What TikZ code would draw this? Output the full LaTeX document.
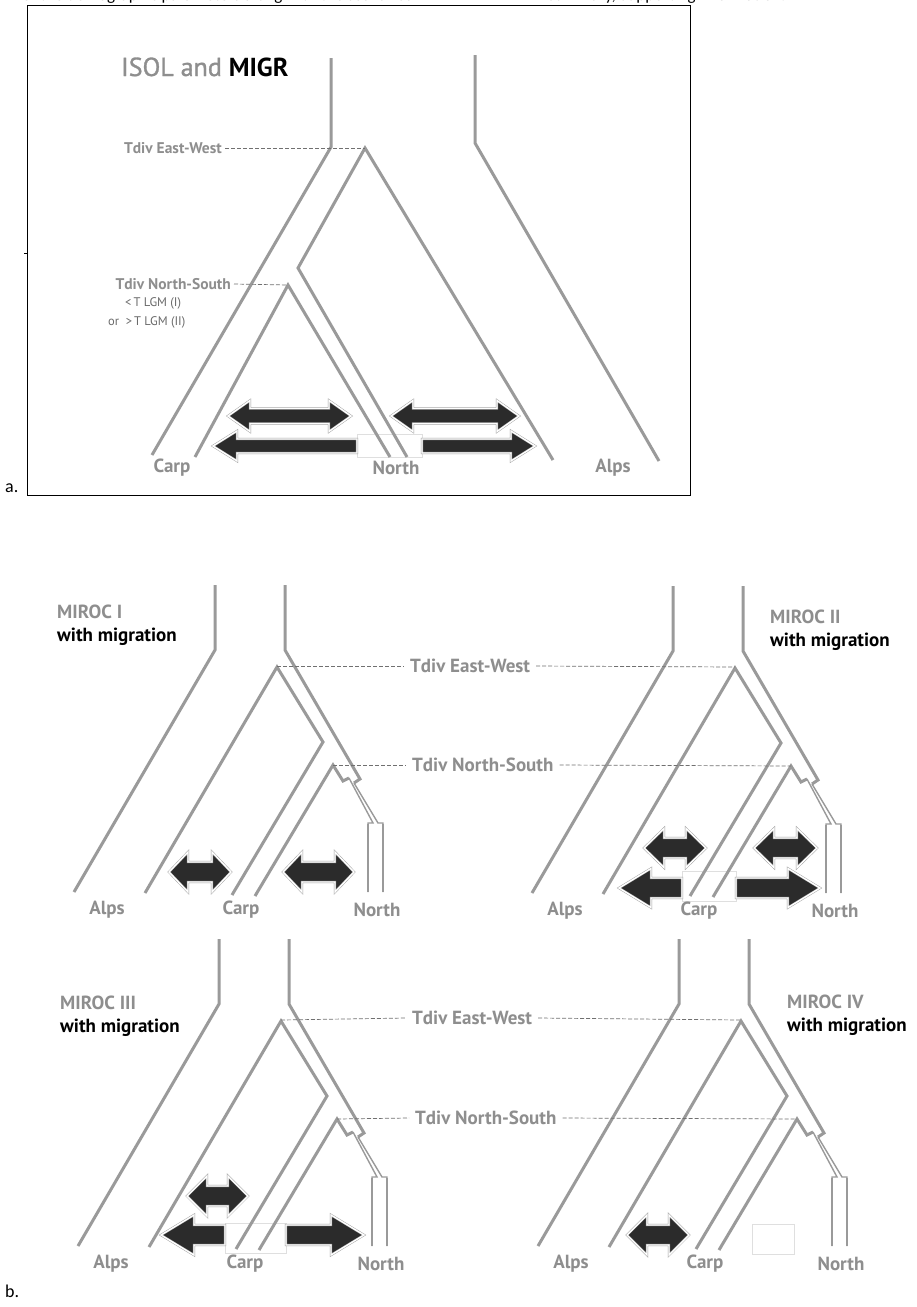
\documentclass[tikz,border=0pt]{standalone}
\usepackage{fontspec}
\setmainfont{PT Sans}
\newfontfamily\capfont{Carlito}
\newfontfamily\mediumfont[FakeBold=1.2]{PT Sans}
\definecolor{linegray}{HTML}{9A9A9A}
\definecolor{textgray}{HTML}{8E8E8E}
\definecolor{notegray}{HTML}{6A6A6A}
\definecolor{arrowdark}{HTML}{2B2B2B}
\definecolor{dashgray}{HTML}{707070}

\tikzset{
  branch/.style={draw=linegray, line width=3pt, line join=miter, line cap=butt},
  thinbranch/.style={draw=linegray, line width=1.4pt, line join=miter},
  guide/.style={draw=dashgray, line width=0.7pt, dash pattern=on 4pt off 2pt},
  migr/.style={fill=arrowdark, draw=gray!75, double=white, double distance=1.4pt,
    line width=0.45pt, line join=miter},
  gapbox/.style={fill=white, draw=gray!25, line width=0.6pt},
  poplabel/.style={text=textgray, font=\bfseries\fontsize{19}{21}\selectfont, inner sep=0pt},
  tdivA/.style={text=textgray, font=\bfseries\fontsize{15.5}{17}\selectfont, inner sep=0pt},
  tdivB/.style={text=textgray, font=\bfseries\fontsize{19}{21}\selectfont, inner sep=0pt},
  notelabel/.style={text=notegray, font=\fontsize{12.5}{14}\selectfont, inner sep=0pt},
  modelname/.style={text=textgray, font=\bfseries\fontsize{19}{21}\selectfont, inner sep=0pt},
  withmig/.style={text=black, font=\bfseries\fontsize{19}{21}\selectfont, inner sep=0pt},
  panelletter/.style={text=black, font=\capfont\fontsize{18}{20}\selectfont, inner sep=0pt},
  captext/.style={text=black, font=\capfont\fontsize{17}{19}\selectfont, anchor=base west, inner sep=0pt},
}

% double-headed migration arrow: left tip, right tip, y, half head, half shaft, head length
\newcommand{\migdouble}[6]{%
  \path[migr] (#1,#3) -- ({#1+#6},{#3-#4}) -- ({#1+#6},{#3-#5}) -- ({#2-#6},{#3-#5})
    -- ({#2-#6},{#3-#4}) -- (#2,#3) -- ({#2-#6},{#3+#4}) -- ({#2-#6},{#3+#5})
    -- ({#1+#6},{#3+#5}) -- ({#1+#6},{#3+#4}) -- cycle;}
% arrow pointing left: tip, flat end, y, half head, half shaft, head length
\newcommand{\migleft}[6]{%
  \path[migr] (#1,#3) -- ({#1+#6},{#3-#4}) -- ({#1+#6},{#3-#5}) -- (#2,{#3-#5})
    -- (#2,{#3+#5}) -- ({#1+#6},{#3+#5}) -- ({#1+#6},{#3+#4}) -- cycle;}
% arrow pointing right: flat end, tip, y, half head, half shaft, head length
\newcommand{\migright}[6]{%
  \path[migr] (#2,#3) -- ({#2-#6},{#3-#4}) -- ({#2-#6},{#3-#5}) -- (#1,{#3-#5})
    -- (#1,{#3+#5}) -- ({#2-#6},{#3+#5}) -- ({#2-#6},{#3+#4}) -- cycle;}

% tree of one MIROC model: suffix, x shift, y shift
\newcommand{\mirocTree}[3]{%
  \begin{scope}[shift={(#2,#3)}]
    \coordinate (ew#1) at (277,666);
    \coordinate (ns#1) at (333,765);
    % Alps lineage
    \draw[branch] (215,585) -- (215,650) -- (74,892);
    \draw[branch] (145,893) -- (277,667) -- (323,742) -- (232,895);
    % Carp lineage
    \draw[branch] (255,896) -- (333,765) -- (343,781) -- (349,778);
    % North lineage
    \draw[branch] (285,585) -- (285,650) -- (360,779) -- (354,783);
    \draw[thinbranch] (349,778) -- (373,823) -- (368,823) -- (368,892);
    \draw[thinbranch] (354,783) -- (378,823) -- (383,823) -- (383,892);
    \draw[branch, line width=2.2pt] (368,824) -- (368,892);
    \draw[branch, line width=2.2pt] (383,824) -- (383,892);
    \node[poplabel] (alps#1) at (107,910) {Alps};
    \node[poplabel] (carp#1) at (241,910) {Carp};
    \node[poplabel] (north#1) at (377,910) {North};
  \end{scope}}

\begin{document}
\begin{tikzpicture}[x=1pt, y=-1pt]
\useasboundingbox (0,0) rectangle (916,1307);
\fill[white] (0,0) rectangle (916,1307);

% caption line running off the top edge
\node[captext] (caption1) at (22,0) {of the demographic parameters along with the scenarios};
\node[captext] (caption2) at (548,0) {summary, Supporting Information.};

% ---------------- panel a ----------------
\draw[black, line width=0.8pt] (27,5) rectangle (690,495);
\draw[black, line width=0.8pt] (24,253) -- (27,253);
\node[panelletter, anchor=base west] (la) at (5,492) {a.};

\node[anchor=base west, inner sep=0pt, font=\fontsize{26}{28}\selectfont] (titleA) at (121,76)
  {\textcolor{textgray}{\mediumfont ISOL and} \textcolor{black}{\bfseries MIGR}};

% gap behind the North lineage
\node[gapbox, minimum width=65pt, minimum height=23pt, anchor=north west] (gapA) at (357,434) {};

% lineages
\draw[branch] (331,58) -- (331,147) -- (152,455);
\draw[branch] (475,55) -- (475,143) -- (659,461);
\draw[branch] (553,460) -- (365,148) -- (298,268) -- (407,457);
\draw[branch] (195,457) -- (288,285) -- (390,457);

\coordinate (ewA) at (365,148);
\coordinate (nsA) at (288,285);
\node[tdivA, anchor=east] (tewA) at (222,148) {Tdiv East-West};
\node[tdivA, anchor=east] (tnsA) at (231,284) {Tdiv North-South};
\draw[guide] (tewA.east) ++(3,0) -- (ewA);
\draw[guide] (tnsA.east) ++(3,0) -- (nsA);
\node[notelabel, anchor=west] (lgmI) at (125,303) {<\,T LGM (I)};
\node[notelabel, anchor=west] (lgmII) at (108,322) {or\ \ >\,T LGM (II)};

\node[poplabel] (carpA) at (172,468) {Carp};
\node[poplabel] (northA) at (396,468) {North};
\node[poplabel] (alpsA) at (613,468) {Alps};

\migdouble{228}{351}{416}{15.5}{7.5}{22}
\migdouble{391}{519}{416}{15.5}{7.5}{22}
\migleft{213}{357}{446}{15}{7}{24}
\migright{422}{535}{446}{15}{7}{24}

% ---------------- panel b ----------------
\node[panelletter, anchor=base west] (lb) at (5,1297) {b.};

% gaps behind the Carp lineage
\node[gapbox, minimum width=54pt, minimum height=30pt, anchor=north west] (gapII) at (682,871) {};
\node[gapbox, minimum width=61pt, minimum height=30pt, anchor=north west] (gapIII) at (225,1223) {};
\node[gapbox, minimum width=42pt, minimum height=30pt, anchor=north west] (gapIV) at (752,1224) {};

\mirocTree{I}{0}{0}
\mirocTree{II}{458}{1}
\mirocTree{III}{4}{354}
\mirocTree{IV}{464}{354}

% divergence times, top row
\node[tdivB, anchor=west] (tew1) at (410,666) {Tdiv East-West};
\node[tdivB, anchor=west] (tns1) at (412,765) {Tdiv North-South};
\draw[guide] (ewI) -- ([xshift=-6pt]tew1.west);
\draw[guide] ([xshift=6pt]tew1.east) -- (ewII);
\draw[guide] (nsI) -- ([xshift=-6pt]tns1.west);
\draw[guide] ([xshift=6pt]tns1.east) -- (nsII);
% divergence times, bottom row
\node[tdivB, anchor=west] (tew2) at (412,1018) {Tdiv East-West};
\node[tdivB, anchor=west] (tns2) at (415,1118) {Tdiv North-South};
\draw[guide] (ewIII) -- ([xshift=-6pt]tew2.west);
\draw[guide] ([xshift=6pt]tew2.east) -- (ewIV);
\draw[guide] (nsIII) -- ([xshift=-6pt]tns2.west);
\draw[guide] ([xshift=6pt]tns2.east) -- (nsIV);

% model names
\node[modelname, anchor=west] (m1) at (57,612) {MIROC I};
\node[withmig, anchor=west] (w1) at (57,637) {with migration};
\node[modelname, anchor=west] (m2) at (770,617) {MIROC II};
\node[withmig, anchor=west] (w2) at (770,642) {with migration};
\node[modelname, anchor=west] (m3) at (60,1003) {MIROC III};
\node[withmig, anchor=west] (w3) at (60,1028) {with migration};
\node[modelname, anchor=west] (m4) at (787,1002) {MIROC IV};
\node[withmig, anchor=west] (w4) at (787,1027) {with migration};

% migration, MIROC I
\migdouble{169}{231}{872}{20}{10}{19}
\migdouble{283}{354}{872}{20}{10}{19}
% migration, MIROC II
\migdouble{644}{706}{848}{19.5}{10}{20}
\migdouble{754}{817}{848}{19.5}{10}{20}
\migleft{619}{682}{888}{19.5}{10}{32}
\migright{736}{820}{888}{19.5}{10}{32}
% migration, MIROC III
\migdouble{187}{248}{1196}{20}{10}{20}
\migleft{161}{225}{1235}{20}{10}{33}
\migright{286}{364}{1235}{20}{10}{33}
% migration, MIROC IV
\migdouble{627}{689}{1235}{20}{10}{20}

\end{tikzpicture}
\end{document}
